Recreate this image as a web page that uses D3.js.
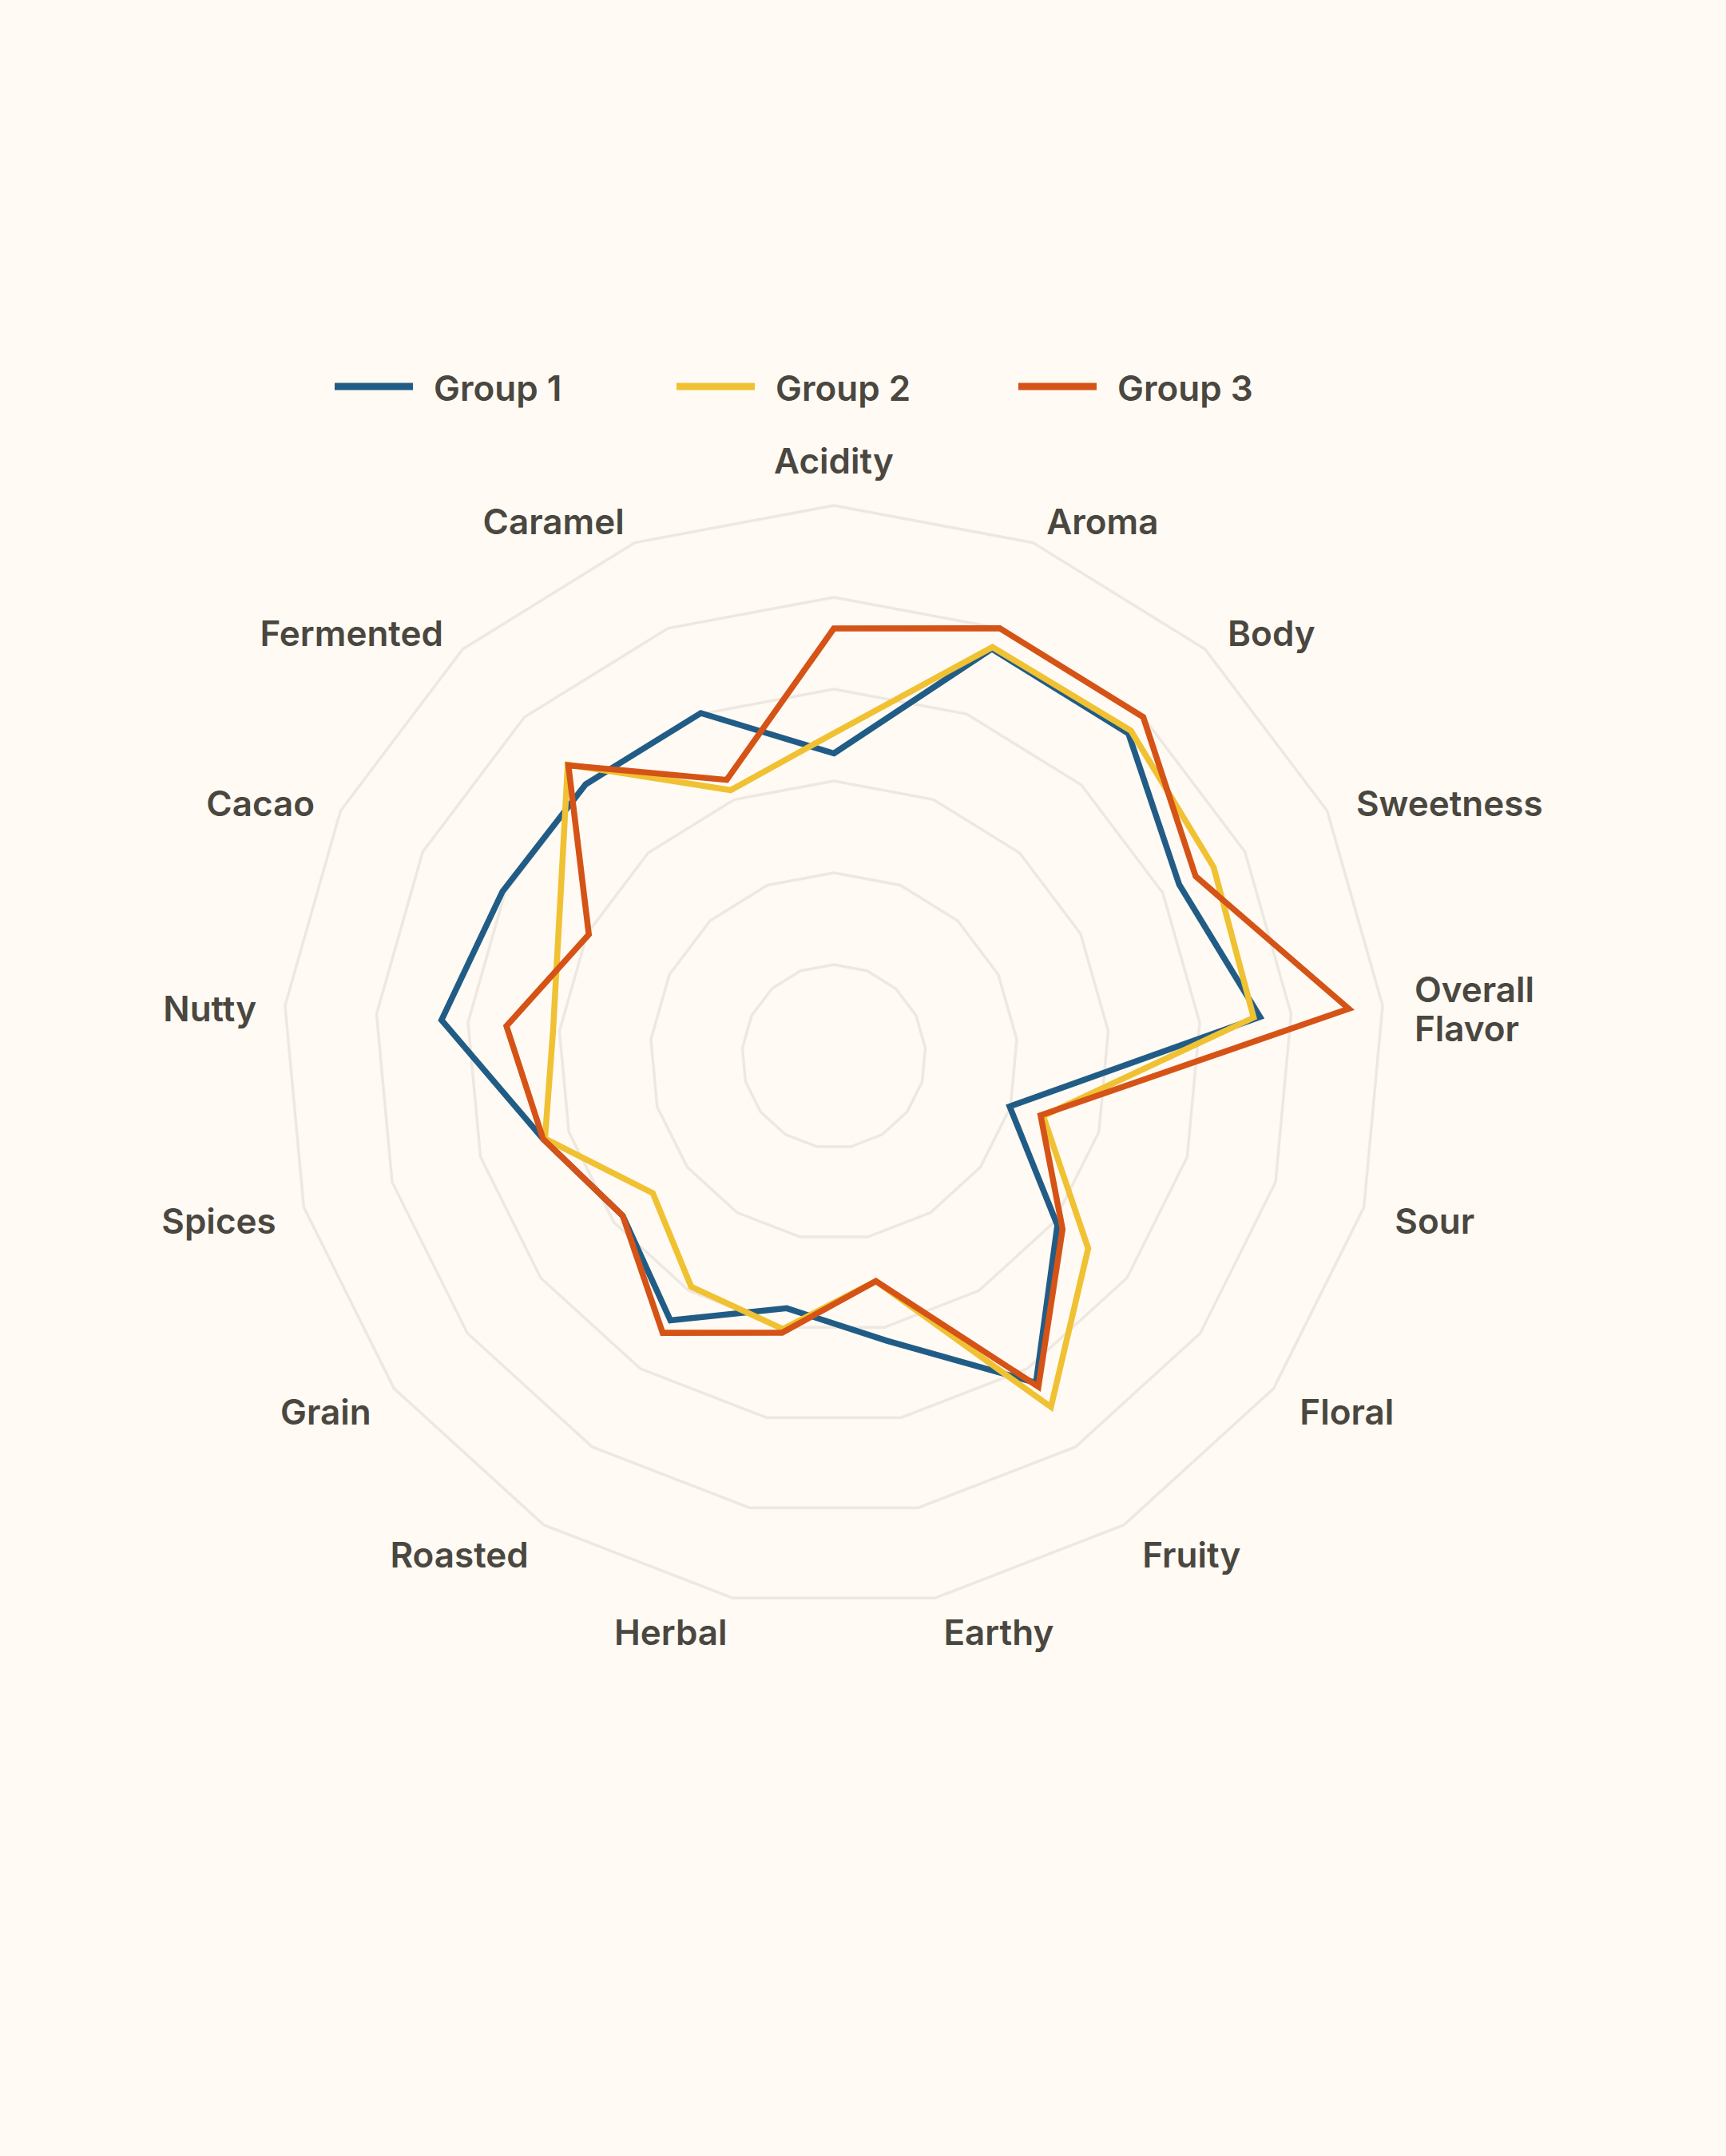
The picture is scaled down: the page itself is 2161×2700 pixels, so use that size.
<!DOCTYPE html>
<html>
<head>
<meta charset="utf-8">
<script src="https://cdn.jsdelivr.net/npm/d3@7"></script>
<style>
  html, body { margin: 0; padding: 0; background: #fffaf3; }
  svg { display: block; }
  text { font-family: Inter, "Noto Sans", sans-serif; font-weight: 600; fill: #4a4740; }
</style>
</head>
<body>
<svg id="chart"></svg>
<script>
const W = 2161;
const H = 2700;

// axes, clockwise from the top
const axes = [
  "Acidity", "Aroma", "Body", "Sweetness", "Overall Flavor", "Sour", "Floral",
  "Fruity", "Earthy", "Herbal", "Roasted", "Grain", "Spices", "Nutty",
  "Cacao", "Fermented", "Caramel"
];

const groups = ["Group 1", "Group 2", "Group 3"];
const colors = ["#215c86", "#f0c132", "#d55316"];

const group1 = [3.30, 4.76, 4.76, 4.20, 4.66, 1.99, 3.05, 4.18, 3.15, 2.79, 3.38, 2.88, 3.29, 4.29, 4.03, 4.01, 4.01];
const group2 = [3.52, 4.78, 4.80, 4.62, 4.59, 2.37, 3.47, 4.49, 2.49, 3.02, 2.95, 2.47, 3.27, 3.07, 3.34, 4.30, 3.11];
const group3 = [4.66, 5.00, 5.00, 4.40, 5.63, 2.34, 3.12, 4.23, 2.49, 3.06, 3.54, 2.88, 3.29, 3.58, 2.98, 4.29, 3.23];

const levels = [1, 2, 3, 4, 5, 6];

const cx = 1044, cy = 1323;
const outerR = 690;
const labelR = 726;

const svg = d3.select("#chart").attr("width", W).attr("height", H);
svg.append("rect").attr("width", W).attr("height", H).attr("fill", "#fffaf3");

const g = svg.append("g").attr("transform", `translate(${cx},${cy})`);

const r = d3.scaleLinear().domain([0, 6]).range([0, outerR]);
const angle = d3.scalePoint().domain(d3.range(axes.length + 1)).range([0, 2 * Math.PI]);

// grid rings
const ring = d3.lineRadial()
  .angle((d, i) => angle(i))
  .radius(d => r(d))
  .curve(d3.curveLinearClosed);

g.selectAll(".ring")
  .data(levels)
  .enter()
  .append("path")
  .attr("class", "ring")
  .attr("d", lv => ring(axes.map(() => lv)))
  .attr("fill", "none")
  .attr("stroke", "#ede9e2")
  .attr("stroke-width", 3.5);

// series
const series = [group1, group2, group3];
const line = d3.lineRadial()
  .angle((d, i) => angle(i))
  .radius(d => r(d))
  .curve(d3.curveLinearClosed);

g.selectAll(".series")
  .data(series)
  .enter()
  .append("path")
  .attr("class", "series")
  .attr("d", d => line(d))
  .attr("fill", "none")
  .attr("stroke", (d, i) => colors[i])
  .attr("stroke-width", 7.5)
  .attr("stroke-linejoin", "miter");

// axis labels
const fontSize = 44;
axes.forEach((name, i) => {
  const a = angle(i);
  const s = Math.sin(a), c = Math.cos(a);
  const x = labelR * s;
  let anchor = "middle";
  if (s > 0.01) anchor = "start";
  if (s < -0.01) anchor = "end";
  const t = g.append("text")
    .attr("text-anchor", anchor)
    .attr("font-size", fontSize);
  const lines = name === "Overall Flavor" ? ["Overall", "Flavor"] : [name];
  let yc = -labelR * c + 7;
  let base = yc + 16 - (lines.length - 1) * 24.5;
  if (anchor === "middle") base = -labelR * c - 4;
  lines.forEach((ln, j) => {
    t.append("tspan")
      .attr("x", x + (s > 0.01 ? 4 : 0))
      .attr("y", base + j * 49)
      .text(ln);
  });
});

// legend
const legend = svg.append("g").attr("transform", "translate(419,484)");
const item = legend.selectAll(".item")
  .data(groups)
  .enter()
  .append("g")
  .attr("class", "item")
  .attr("transform", (d, i) => `translate(${i * 428},0)`);

item.append("line")
  .attr("x1", 0).attr("x2", 98)
  .attr("y1", 0).attr("y2", 0)
  .attr("stroke", (d, i) => colors[i])
  .attr("stroke-width", 9);

item.append("text")
  .attr("x", 124)
  .attr("y", 18)
  .attr("font-size", fontSize)
  .text(d => d);
</script>
</body>
</html>
